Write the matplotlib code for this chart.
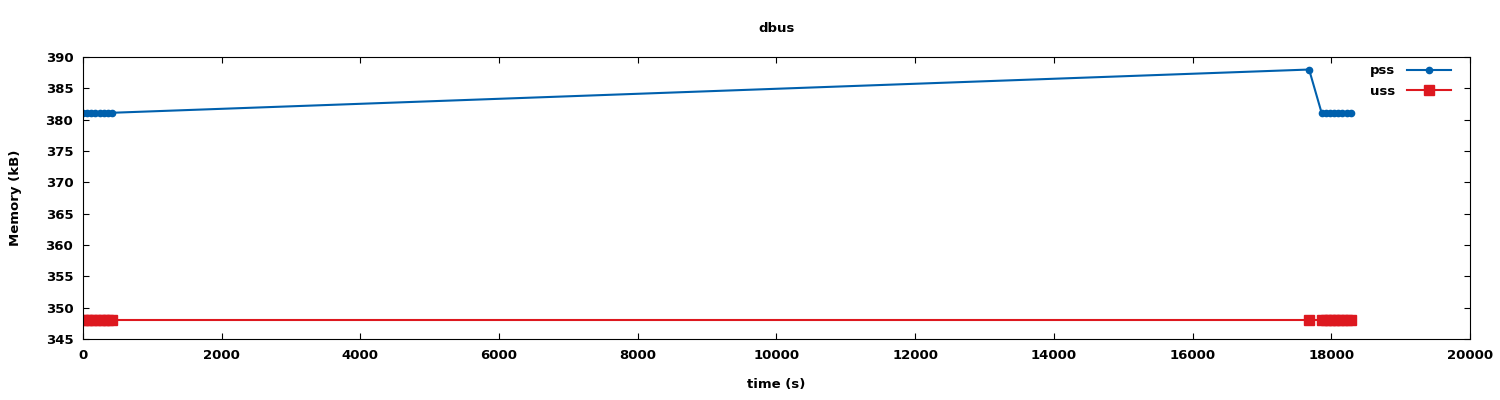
import matplotlib
matplotlib.use("Agg")
import matplotlib.pyplot as plt

time_s = [0, 60, 120, 180, 240, 300, 360, 420,
          17680,
          17860, 17920, 17980, 18040, 18100, 18160, 18220, 18280]
pss = [381.1, 381.1, 381.1, 381.1, 381.1, 381.1, 381.1, 381.1,
       388.0,
       381.1, 381.1, 381.1, 381.1, 381.1, 381.1, 381.1, 381.1]
uss = [348.0] * len(time_s)

title = "dbus"
xlabel = "time (s)"
ylabel = "Memory (kB)"
xticks = list(range(0, 20001, 2000))
yticks = list(range(345, 391, 5))

plt.rcParams['font.family'] = ['DejaVu Sans']
plt.rcParams['font.weight'] = 'bold'
fig = plt.figure(figsize=(15, 4), dpi=100)
ax = fig.add_axes([0.0553, 0.1525, 0.9247, 0.705])

ax.plot(time_s, pss, color='#0060ad', lw=1.5, marker='o', ms=4.5, label='pss')
ax.plot(time_s, uss, color='#dd181f', lw=1.5, marker='s', ms=6.5, label='uss')

ax.set_xlim(0, 20000)
ax.set_ylim(345, 390)
ax.set_xticks(xticks)
ax.set_yticks(yticks)
ax.tick_params(direction='in', top=True, right=True, length=4, labelsize=9.5, pad=7)
for lab in ax.get_xticklabels() + ax.get_yticklabels():
    lab.set_fontweight('bold')
ax.set_title(title, fontsize=9.5, pad=18, fontweight='bold')
ax.set_xlabel(xlabel, fontsize=9.5, labelpad=12, fontweight='bold')
ax.set_ylabel(ylabel, fontsize=9.5, labelpad=17, fontweight='bold')
leg = ax.legend(loc='upper right', frameon=False, markerfirst=False,
                prop={'size': 9.5, 'weight': 'bold'},
                handlelength=3.3, handletextpad=0.9, bbox_to_anchor=(0.99, 0.993),
                borderaxespad=0.0, labelspacing=0.55)

fig.savefig('out.png', dpi=100)
